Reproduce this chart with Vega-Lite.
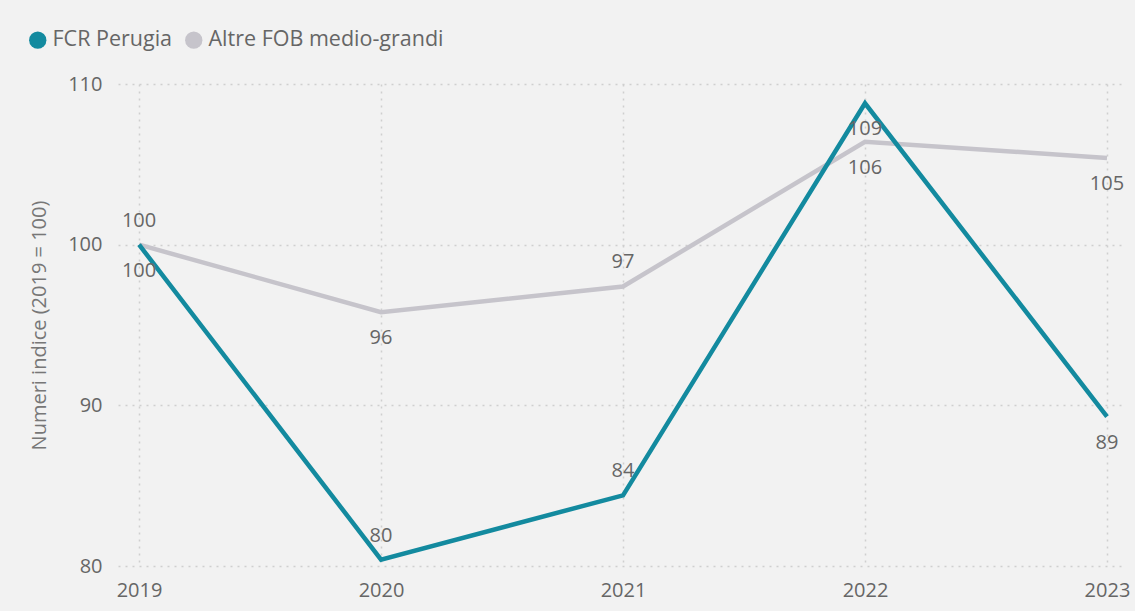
{
  "$schema": "https://vega.github.io/schema/vega-lite/v6.json",
  "width": 1004,
  "height": 482,
  "autosize": {"type": "none"},
  "padding": {"left": 118, "top": 84, "right": 13, "bottom": 45},
  "background": "#f2f2f2",
  "config": {"font": "Open Sans", "view": {"stroke": null}},
  "data": {
    "values": [
      {"series": "Altre FOB medio-grandi", "year": 2019, "value": 100},
      {"series": "Altre FOB medio-grandi", "year": 2020, "value": 95.8},
      {"series": "Altre FOB medio-grandi", "year": 2021, "value": 97.4},
      {"series": "Altre FOB medio-grandi", "year": 2022, "value": 106.4},
      {"series": "Altre FOB medio-grandi", "year": 2023, "value": 105.4},
      {"series": "FCR Perugia", "year": 2019, "value": 100},
      {"series": "FCR Perugia", "year": 2020, "value": 80.4},
      {"series": "FCR Perugia", "year": 2021, "value": 84.4},
      {"series": "FCR Perugia", "year": 2022, "value": 108.8},
      {"series": "FCR Perugia", "year": 2023, "value": 89.3}
    ]
  },
  "encoding": {
    "x": {
      "field": "year",
      "type": "quantitative",
      "scale": {"domain": [2018.913, 2023.062], "nice": false, "zero": false},
      "axis": {
        "values": [2019, 2020, 2021, 2022, 2023],
        "format": "d",
        "title": null,
        "labelFontSize": 20,
        "labelColor": "#666666",
        "labelPadding": 14,
        "labelFlush": false,
        "domain": false,
        "ticks": false,
        "tickSize": 0,
        "grid": true,
        "gridColor": "#cfcfcf",
        "gridDash": [2, 5],
        "gridWidth": 1.5
      }
    },
    "y": {
      "field": "value",
      "type": "quantitative",
      "scale": {"domain": [80, 110], "nice": false, "zero": false},
      "axis": {
        "values": [80, 90, 100, 110],
        "title": "Numeri indice (2019 = 100)",
        "titleFontSize": 20,
        "titleFontWeight": "normal",
        "titleColor": "#777777",
        "titlePadding": 18,
        "labelFontSize": 20,
        "labelColor": "#666666",
        "labelPadding": 16,
        "domain": false,
        "ticks": false,
        "tickSize": 0,
        "grid": true,
        "gridColor": "#cfcfcf",
        "gridDash": [2, 5],
        "gridWidth": 1.5
      }
    }
  },
  "layer": [
    {
      "mark": {"type": "line", "strokeWidth": 4.5},
      "encoding": {
        "color": {
          "field": "series",
          "type": "nominal",
          "scale": {
            "domain": ["FCR Perugia", "Altre FOB medio-grandi"],
            "range": ["#138a9f", "#c6c4cb"]
          },
          "legend": {
            "orient": "none",
            "legendX": -91,
            "legendY": -55,
            "direction": "horizontal",
            "title": null,
            "labelFontSize": 21.5,
            "labelColor": "#666666",
            "labelLimit": 0,
            "symbolType": "circle",
            "symbolSize": 300,
            "symbolStrokeWidth": 0,
            "columnPadding": 10,
            "labelOffset": 4,
            "padding": 0,
            "encode": {
              "symbols": {
                "update": {
                  "fill": {"scale": "color", "field": "value"},
                  "opacity": {"value": 1}
                }
              }
            }
          }
        }
      }
    },
    {
      "transform": [
        {"filter": "(datum.series == 'FCR Perugia' && (datum.year == 2020 || datum.year == 2021)) || (datum.series != 'FCR Perugia' && (datum.year == 2019 || datum.year == 2021))"}
      ],
      "mark": {"type": "text", "fontSize": 20, "color": "#666666", "dy": -24, "baseline": "middle"},
      "encoding": {"text": {"field": "value", "type": "quantitative", "format": ".0f"}}
    },
    {
      "transform": [
        {"filter": "!((datum.series == 'FCR Perugia' && (datum.year == 2020 || datum.year == 2021)) || (datum.series != 'FCR Perugia' && (datum.year == 2019 || datum.year == 2021)))"}
      ],
      "mark": {"type": "text", "fontSize": 20, "color": "#666666", "dy": 26, "baseline": "middle"},
      "encoding": {"text": {"field": "value", "type": "quantitative", "format": ".0f"}}
    }
  ]
}
